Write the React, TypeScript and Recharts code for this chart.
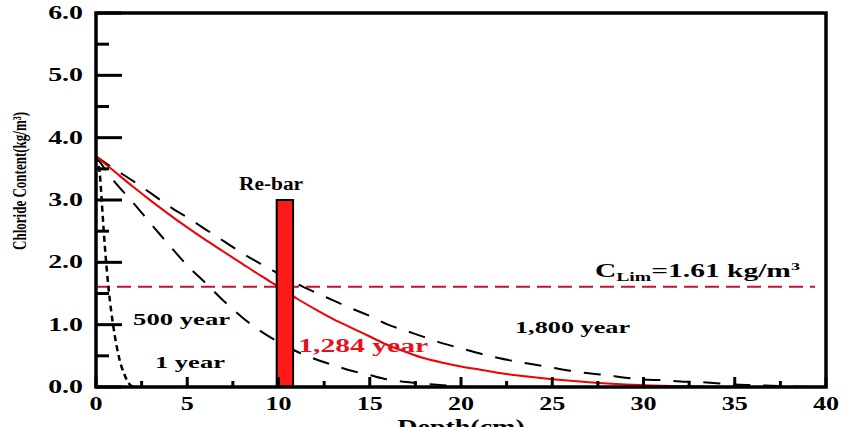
import { LineChart, Line, XAxis, YAxis, ReferenceLine, ReferenceArea, ReferenceDot, Label } from 'recharts';

// axis ticks (minor ticks every half step, labels only on major ones)
const xTicks = [0, 2.5, 5, 7.5, 10, 12.5, 15, 17.5, 20, 22.5, 25, 27.5, 30, 32.5, 35, 37.5, 40];
const yTicks = [0, 0.5, 1, 1.5, 2, 2.5, 3, 3.5, 4, 4.5, 5, 5.5, 6];

// 1 year
const depth1 = [0, 0.2, 0.3, 0.4, 0.5, 0.7, 0.95, 1.25, 1.6, 1.85, 2.1];
const conc1 = [3.7, 3.45, 3.05, 2.6, 2.2, 1.55, 0.97, 0.49, 0.17, 0.04, 0];

// 500 year
const depth500 = [0, 1, 2, 3, 4, 5, 6, 7, 8, 9, 10, 11, 12, 13, 14, 15, 16, 17, 18, 19, 20, 21];
const conc500 = [3.7, 3.3, 2.97, 2.62, 2.28, 1.95, 1.67, 1.38, 1.12, 0.9, 0.72, 0.57, 0.45, 0.35, 0.26, 0.19, 0.12, 0.08, 0.05, 0.03, 0.01, 0];

// 1,284 year (red)
const depth1284 = [0, 1, 2, 3, 4, 5, 6, 7, 8, 9, 10, 11, 12, 13, 14, 15, 16, 17, 18, 19, 20, 21, 22, 23, 24, 25, 26, 27, 28, 29, 30, 31, 32, 34, 36, 40];
const conc1284 = [3.7, 3.46, 3.22, 2.99, 2.77, 2.56, 2.36, 2.17, 1.98, 1.79, 1.61, 1.42, 1.25, 1.09, 0.95, 0.81, 0.67, 0.56, 0.46, 0.39, 0.33, 0.28, 0.23, 0.19, 0.155, 0.125, 0.1, 0.075, 0.055, 0.04, 0.03, 0.02, 0.013, 0.006, 0.002, 0];

// 1,800 year
const depth1800 = [0, 1, 2, 3, 4, 5, 6, 7, 8, 9, 10, 11, 12, 13, 14, 15, 16, 17, 18, 19, 20, 21, 22, 23, 24, 25, 26, 27, 28, 29, 30, 31, 32, 33, 34, 35, 36, 37, 38, 39, 40];
const conc1800 = [3.7, 3.5, 3.31, 3.11, 2.9, 2.72, 2.53, 2.34, 2.15, 1.98, 1.82, 1.66, 1.52, 1.39, 1.26, 1.14, 1.0, 0.9, 0.8, 0.7, 0.62, 0.54, 0.47, 0.41, 0.36, 0.31, 0.26, 0.22, 0.19, 0.15, 0.12, 0.11, 0.09, 0.08, 0.06, 0.04, 0.03, 0.02, 0.01, 0.005, 0];

const cLim = 1.61;
const cLimEnd = 39.4;
const rebarDepth = [9.9, 10.8];
const rebarTop = 3.0;

const zip = (xs: number[], ys: number[]) => xs.map((x, i) => ({ x, y: ys[i] }));

const SERIF = '"Liberation Serif", "Times New Roman", serif';

// annotation text, anchored at left/baseline in data coords
const notes = [
  { text: 'Re-bar', x: 7.84, y: 3.16, w: 64, size: 18, color: '#000' },
  { text: '500 year', x: 2.03, y: 0.99, w: 97, size: 16, color: '#000' },
  { text: '1 year', x: 3.23, y: 0.3, w: 70, size: 16, color: '#000' },
  { text: '1,284 year', x: 11.08, y: 0.56, w: 130, size: 18, color: '#e8101a' },
  { text: '1,800 year', x: 22.96, y: 0.87, w: 115, size: 16, color: '#000' },
];

function YTick(props: any) {
  const { x, y, payload } = props;
  const v = payload.value as number;
  const major = Number.isInteger(v);
  return (
    <g>
      <line x1={x} x2={x + (major ? 26 : 13)} y1={y} y2={y} stroke="#000" strokeWidth={3} />
      {major && (
        <text
          transform={`translate(${x - 13},${y + 6}) scale(1.55,1)`}
          textAnchor="end"
          fontFamily={SERIF}
          fontWeight="bold"
          fontSize={18}
          fill="#000"
        >
          {v.toFixed(1)}
        </text>
      )}
    </g>
  );
}

function XTick(props: any) {
  const { x, y, payload } = props;
  const v = payload.value as number;
  const major = v % 5 === 0;
  return (
    <g>
      <line x1={x} x2={x} y1={y} y2={y - (major ? 10 : 6)} stroke="#000" strokeWidth={3} />
      {major && (
        <text
          transform={`translate(${x},${y + 23}) scale(1.45,1)`}
          textAnchor="middle"
          fontFamily={SERIF}
          fontWeight="bold"
          fontSize={18}
          fill="#000"
        >
          {v}
        </text>
      )}
    </g>
  );
}

export default function App() {
  return (
    <div style={{ position: 'absolute', left: 0, top: 0, width: 853, height: 427, overflow: 'hidden', background: '#fff' }}>
      <LineChart width={853} height={427} margin={{ top: 13, right: 27, left: 0, bottom: 0 }}>
        <XAxis
          type="number"
          dataKey="x"
          domain={[0, 40]}
          ticks={xTicks}
          interval={0}
          height={40}
          tickSize={0}
          tickMargin={0}
          axisLine={false}
          tick={(p: any) => <XTick {...p} />}
        >
          <Label
            content={(p: any) => {
              const vb = p.viewBox || { x: 96, width: 730 };
              return (
                <text
                  transform={`translate(${vb.x + vb.width / 2},434) scale(1.4,1)`}
                  textAnchor="middle"
                  fontFamily={SERIF}
                  fontWeight="bold"
                  fontSize={20}
                  fill="#000"
                >
                  Depth(cm)
                </text>
              );
            }}
          />
        </XAxis>
        <YAxis
          type="number"
          dataKey="y"
          domain={[0, 6]}
          ticks={yTicks}
          interval={0}
          width={96}
          tickSize={0}
          tickMargin={0}
          axisLine={false}
          tick={(p: any) => <YTick {...p} />}
        >
          <Label
            content={() => (
              <text
                x={26}
                y={181}
                transform="rotate(-90, 26, 181)"
                textAnchor="middle"
                textLength={138}
                lengthAdjust="spacingAndGlyphs"
                fontFamily={SERIF}
                fontWeight="bold"
                fontSize={19}
                fill="#000"
              >
                Chloride Content(kg/m³)
              </text>
            )}
          />
        </YAxis>

        <ReferenceLine
          segment={[{ x: 0, y: cLim }, { x: cLimEnd, y: cLim }]}
          stroke="#c8102e"
          strokeWidth={2}
          strokeDasharray="14 7"
        />

        <Line data={zip(depth1, conc1)} dataKey="y" type="monotone" stroke="#000" strokeWidth={2.5} strokeDasharray="6 4" dot={false} isAnimationActive={false} />
        <Line data={zip(depth500, conc500)} dataKey="y" type="monotone" stroke="#000" strokeWidth={2} strokeDasharray="17 13" dot={false} isAnimationActive={false} />
        <Line data={zip(depth1800, conc1800)} dataKey="y" type="monotone" stroke="#000" strokeWidth={2} strokeDasharray="17 13" dot={false} isAnimationActive={false} />
        <Line data={zip(depth1284, conc1284)} dataKey="y" type="monotone" stroke="#f00000" strokeWidth={2} dot={false} isAnimationActive={false} />

        <ReferenceArea
          x1={rebarDepth[0]}
          x2={rebarDepth[1]}
          y1={0}
          y2={rebarTop}
          fill="#ff1a1a"
          fillOpacity={1}
          stroke="#000"
          strokeWidth={2}
          zIndex={450}
        />
        <ReferenceArea x1={0} x2={40} y1={0} y2={6} fill="none" stroke="#000" strokeWidth={3.5} zIndex={460} />

        {notes.map((n) => (
          <ReferenceDot
            key={n.text}
            x={n.x}
            y={n.y}
            r={0}
            zIndex={470}
            shape={(p: any) => (
              <text
                x={p.cx}
                y={p.cy}
                textLength={n.w}
                lengthAdjust="spacingAndGlyphs"
                fontFamily={SERIF}
                fontWeight="bold"
                fontSize={n.size}
                fill={n.color}
              >
                {n.text}
              </text>
            )}
          />
        ))}
        <ReferenceDot
          x={27.34}
          y={1.76}
          r={0}
          zIndex={470}
          shape={(p: any) => (
            <text x={p.cx} y={p.cy} textLength={205} lengthAdjust="spacingAndGlyphs" fontFamily={SERIF} fontWeight="bold" fontSize={18} fill="#000">
              C
              <tspan fontSize={12} dy={4}>Lim</tspan>
              <tspan dy={-4}>=1.61 kg/m</tspan>
              <tspan fontSize={11} dy={-7}>3</tspan>
            </text>
          )}
        />
      </LineChart>
    </div>
  );
}
